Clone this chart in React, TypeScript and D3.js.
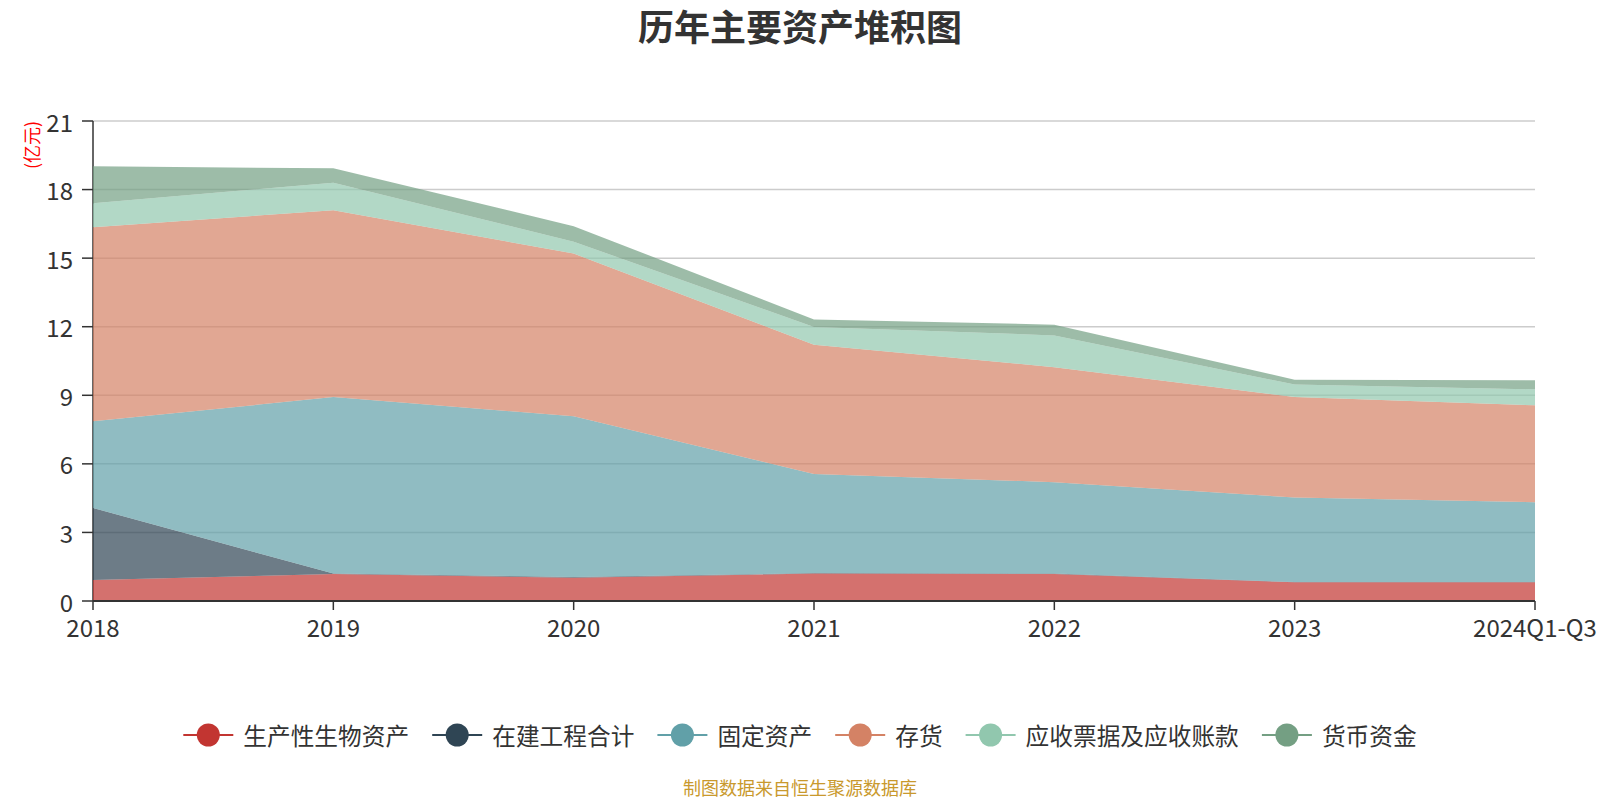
import React from "react";
import * as d3 from "d3";

const categories = ["2018", "2019", "2020", "2021", "2022", "2023", "2024Q1-Q3"];
const seriesNames = ["生产性生物资产", "在建工程合计", "固定资产", "存货", "应收票据及应收账款", "货币资金"];
const bioAssets = [0.92, 1.18, 1.02, 1.2, 1.18, 0.82, 0.82];
const construction = [3.15, 0.02, 0.03, 0.02, 0.02, 0.01, 0.01];
const fixedAssets = [3.79, 7.72, 7.03, 4.34, 4.0, 3.7, 3.49];
const inventory = [8.49, 8.18, 7.12, 5.65, 5.03, 4.39, 4.24];
const receivables = [1.05, 1.2, 0.52, 0.78, 1.39, 0.55, 0.7];
const cash = [1.62, 0.63, 0.68, 0.33, 0.47, 0.21, 0.4];
const yTicks = [0, 3, 6, 9, 12, 15, 18, 21];
const colors = ["#c23531", "#2f4554", "#61a0a8", "#d48265", "#91c7ae", "#749f83"];

const W = 1600;
const H = 800;
const M = { left: 93, right: 65, top: 121, bottom: 200 };
const FONT = "'Noto Sans CJK SC', 'Noto Sans', sans-serif";

export default function App() {
  const seriesValues = [bioAssets, construction, fixedAssets, inventory, receivables, cash];
  const rows = categories.map((c, i) => {
    const r: Record<string, any> = { cat: c };
    seriesNames.forEach((n, k) => (r[n] = seriesValues[k][i]));
    return r;
  });
  const stacked = d3.stack<any>().keys(seriesNames)(rows);

  const x = d3
    .scalePoint<string>()
    .domain(categories)
    .range([M.left, W - M.right]);
  const y = d3
    .scaleLinear()
    .domain([0, 21])
    .range([H - M.bottom + 1, M.top]);

  const area = d3
    .area<any>()
    .x((d) => x(d.data.cat) as number)
    .y0((d) => y(d[0]))
    .y1((d) => y(d[1]));

  // legend layout
  const legFont = 23.7;
  const lineW = 50;
  const textGap = 10;
  const itemGap = 23;
  const widths = seriesNames.map((n) => lineW + textGap + n.length * legFont);
  const total = d3.sum(widths) + itemGap * (seriesNames.length - 1);
  let cursor = W / 2 - total / 2;
  const legendItems = seriesNames.map((n, i) => {
    const start = cursor;
    cursor += widths[i] + itemGap;
    return { n, start, color: colors[i] };
  });
  const legY = 735;

  return (
    <div style={{ position: "absolute", left: 0, top: 0 }}>
      <svg width={W} height={H} style={{ display: "block", fontFamily: FONT }}>
        <rect width={W} height={H} fill="#fff" />
        <text
          x={W / 2}
          y={25}
          textAnchor="middle"
          dominantBaseline="central"
          fontSize={36}
          fontWeight="bold"
          fill="#333"
        >
          历年主要资产堆积图
        </text>

        {/* grid */}
        {yTicks.map((t) => (
          <line
            key={"g" + t}
            x1={M.left}
            x2={W - M.right}
            y1={y(t)}
            y2={y(t)}
            stroke="#ccc"
            strokeWidth={1.5}
          />
        ))}

        {/* y axis */}
        <line x1={M.left} x2={M.left} y1={y(0)} y2={y(21)} stroke="#333" strokeWidth={1.5} />
        {yTicks.map((t) => (
          <g key={"yt" + t}>
            <line x1={M.left - 11} x2={M.left} y1={y(t)} y2={y(t)} stroke="#333" strokeWidth={1.5} />
            <text
              x={M.left - 20}
              y={y(t)}
              textAnchor="end"
              dominantBaseline="central"
              fontSize={24}
              fill="#333"
            >
              {t}
            </text>
          </g>
        ))}
        <text
          transform={`translate(31,145) rotate(-90)`}
          textAnchor="middle"
          dominantBaseline="central"
          fontSize={18}
          fill="#ff0000"
        >
          (亿元)
        </text>

        {/* areas */}
        {stacked.map((s, i) => (
          <path key={s.key} d={area(s) as string} fill={colors[i]} fillOpacity={0.7} stroke="none" />
        ))}

        {/* x axis */}
        <line x1={M.left} x2={W - M.right} y1={y(0)} y2={y(0)} stroke="#333" strokeWidth={2} />
        {categories.map((c) => (
          <g key={"xt" + c}>
            <line
              x1={x(c) as number}
              x2={x(c) as number}
              y1={y(0)}
              y2={y(0) + 9}
              stroke="#333"
              strokeWidth={1.5}
            />
            <text
              x={x(c) as number}
              y={y(0) + 25}
              textAnchor="middle"
              dominantBaseline="central"
              fontSize={24}
              fill="#333"
            >
              {c}
            </text>
          </g>
        ))}

        {/* legend */}
        {legendItems.map((it) => (
          <g key={"l" + it.n}>
            <line
              x1={it.start}
              x2={it.start + lineW}
              y1={legY}
              y2={legY}
              stroke={it.color}
              strokeWidth={2}
            />
            <circle cx={it.start + lineW / 2} cy={legY} r={11.5} fill={it.color} />
            <text
              x={it.start + lineW + textGap}
              y={legY}
              dominantBaseline="central"
              fontSize={legFont}
              fill="#333"
            >
              {it.n}
            </text>
          </g>
        ))}

        <text
          x={W / 2}
          y={787}
          textAnchor="middle"
          dominantBaseline="central"
          fontSize={18}
          fill="#c9992d"
        >
          制图数据来自恒生聚源数据库
        </text>
      </svg>
    </div>
  );
}
